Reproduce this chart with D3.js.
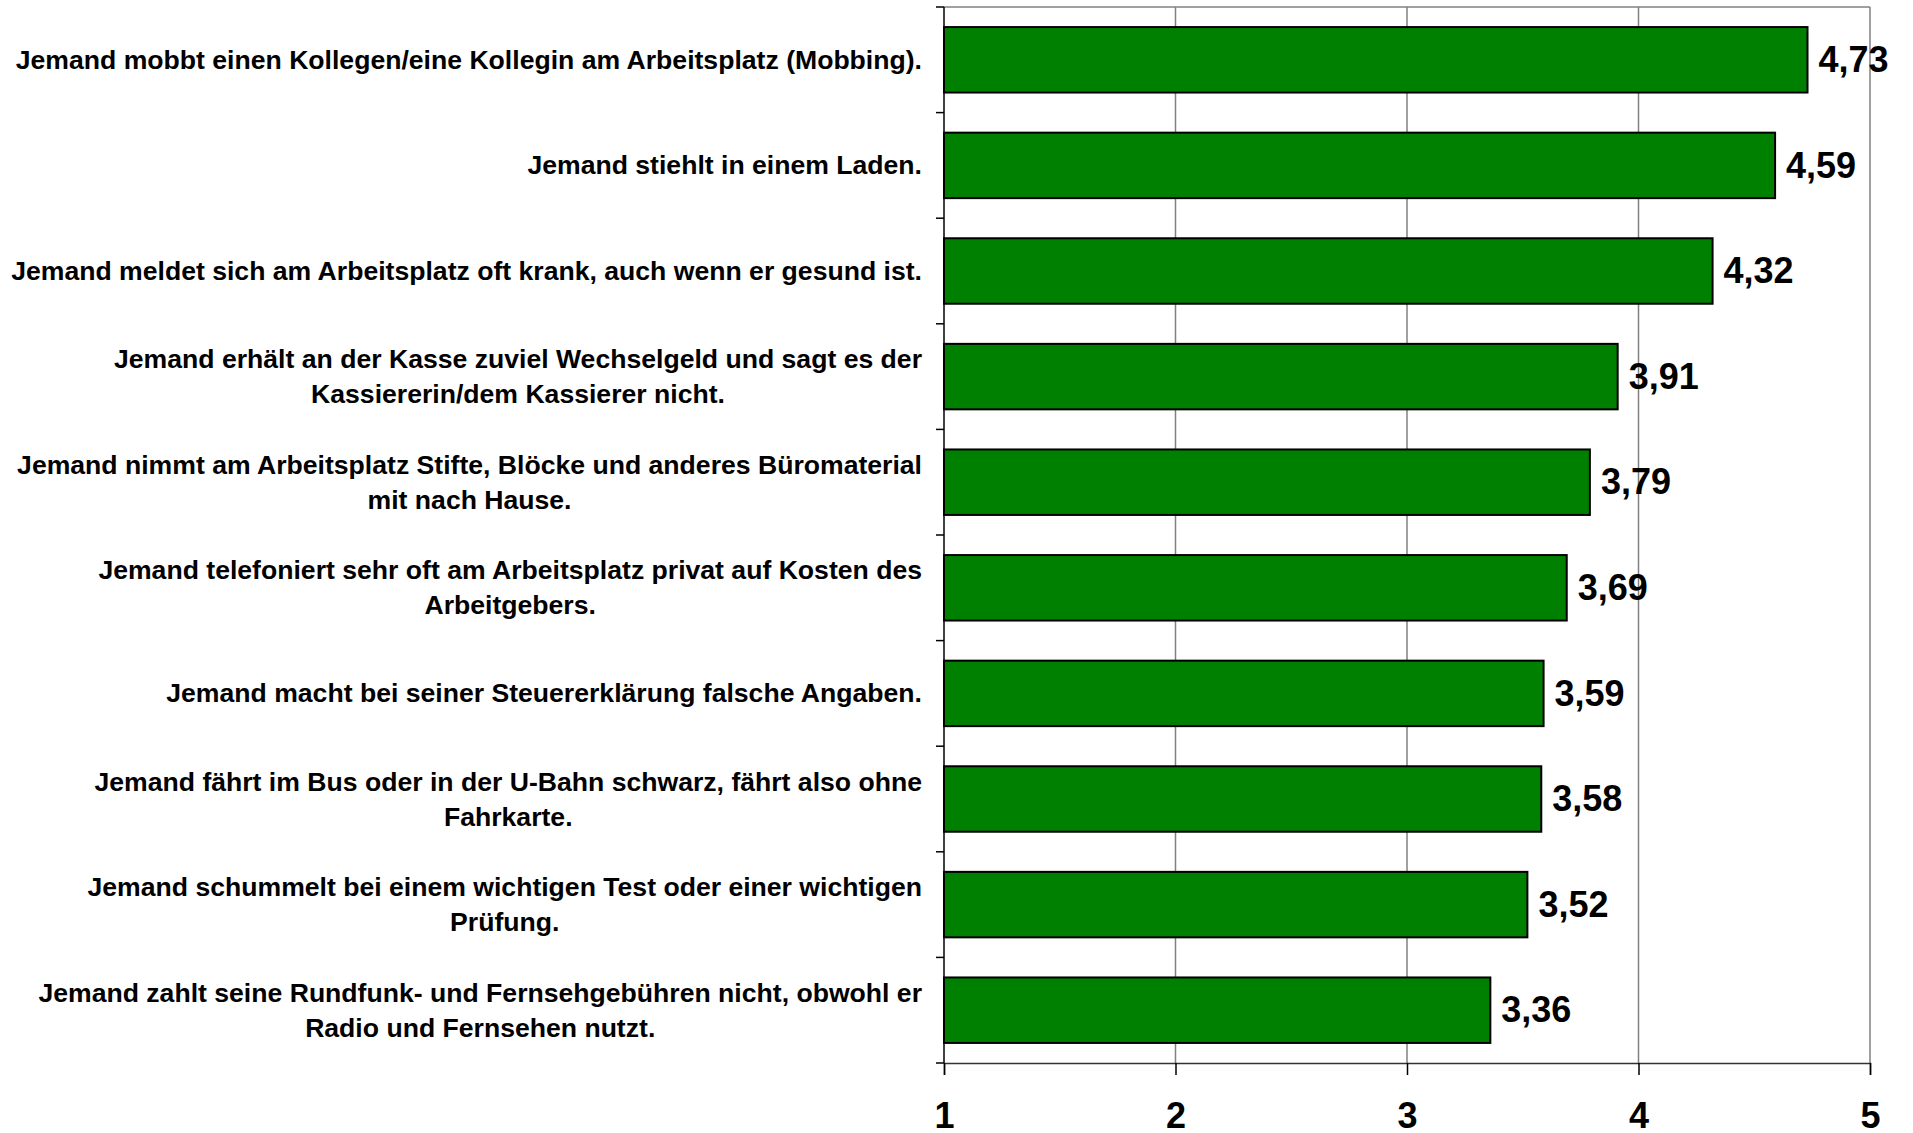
<!DOCTYPE html>
<html>
<head>
<meta charset="utf-8">
<script src="https://cdn.jsdelivr.net/npm/d3@7"></script>
<style>
  body { margin: 0; background: #fff; }
  svg { display: block; font-family: Arial, "Liberation Sans", sans-serif; font-weight: bold; }
</style>
</head>
<body>
<div id="chart"></div>
<script>
const labels = [
  ["Jemand mobbt einen Kollegen/eine Kollegin am Arbeitsplatz (Mobbing)."],
  ["Jemand stiehlt in einem Laden."],
  ["Jemand meldet sich am Arbeitsplatz oft krank, auch wenn er gesund ist."],
  ["Jemand erhält an der Kasse zuviel Wechselgeld und sagt es der", "Kassiererin/dem Kassierer nicht."],
  ["Jemand nimmt am Arbeitsplatz Stifte, Blöcke und anderes Büromaterial", "mit nach Hause."],
  ["Jemand telefoniert sehr oft am Arbeitsplatz privat auf Kosten des", "Arbeitgebers."],
  ["Jemand macht bei seiner Steuererklärung falsche Angaben."],
  ["Jemand fährt im Bus oder in der U-Bahn schwarz, fährt also ohne", "Fahrkarte."],
  ["Jemand schummelt bei einem wichtigen Test oder einer wichtigen", "Prüfung."],
  ["Jemand zahlt seine Rundfunk- und Fernsehgebühren nicht, obwohl er", "Radio und Fernsehen nutzt."]
];
const values = [4.73, 4.59, 4.32, 3.91, 3.79, 3.69, 3.59, 3.58, 3.52, 3.36];
const xTicks = [1, 2, 3, 4, 5];

const width = 1913, height = 1133;
const margin = { top: 7, right: 43, bottom: 70, left: 944 };

const COLORS = {
  BAR: '#008000',
  GRID: '#808080',
  AXIS: '#000'
};

const svg = d3.select('#chart').append('svg')
  .attr('width', width)
  .attr('height', height)
  .attr('viewBox', [0, 0, width, height]);

const x = d3.scaleLinear()
  .domain([1, 5])
  .range([margin.left, width - margin.right]);

const y = d3.scaleBand()
  .domain(d3.range(values.length))
  .range([margin.top, height - margin.bottom])
  .paddingInner(0.38)
  .paddingOuter(0.19);

// boundaries between categories for the small ticks
const step = (height - margin.bottom - margin.top) / values.length;
const yBounds = d3.range(values.length + 1).map(i => margin.top + i * step);

// grid lines + frame
svg.append('g')
  .selectAll('line')
  .data(xTicks.slice(1))
  .join('line')
    .attr('x1', d => x(d)).attr('x2', d => x(d))
    .attr('y1', margin.top).attr('y2', height - margin.bottom)
    .attr('stroke', COLORS.GRID)
    .attr('stroke-width', 1.5);

svg.append('line')
  .attr('x1', margin.left).attr('x2', width - margin.right)
  .attr('y1', margin.top).attr('y2', margin.top)
  .attr('stroke', COLORS.GRID)
  .attr('stroke-width', 1.5);

// bars
svg.append('g')
  .selectAll('rect')
  .data(values)
  .join('rect')
    .attr('x', x(1))
    .attr('y', (d, i) => y(i))
    .attr('width', d => x(d) - x(1))
    .attr('height', y.bandwidth())
    .attr('fill', COLORS.BAR)
    .attr('stroke', '#000')
    .attr('stroke-width', 2);

// value labels
svg.append('g')
  .selectAll('text')
  .data(values)
  .join('text')
    .attr('x', d => x(d) + 11)
    .attr('y', (d, i) => y(i) + y.bandwidth() / 2)
    .attr('dy', '0.34em')
    .attr('font-size', 36)
    .attr('fill', '#000')
    .text(d => d.toFixed(2).replace('.', ','));

// left axis line and ticks
svg.append('line')
  .attr('x1', margin.left).attr('x2', margin.left)
  .attr('y1', margin.top).attr('y2', height - margin.bottom)
  .attr('stroke', COLORS.AXIS).attr('stroke-width', 1.5);

svg.append('g')
  .selectAll('line')
  .data(yBounds)
  .join('line')
    .attr('x1', margin.left - 8).attr('x2', margin.left)
    .attr('y1', d => d).attr('y2', d => d)
    .attr('stroke', COLORS.AXIS).attr('stroke-width', 1.5);

// bottom axis, numbers sit right at the lower edge like in the reference
const xAxis = svg.append('g')
  .attr('transform', `translate(0,${height - margin.bottom})`)
  .call(d3.axisBottom(x).tickValues(xTicks).tickSize(12).tickPadding(27).tickFormat(d3.format('d')));
xAxis.select('.domain').attr('stroke', '#333').attr('stroke-width', 1.5);
xAxis.selectAll('.tick line').attr('stroke', '#000').attr('stroke-width', 1.5);
xAxis.selectAll('.tick text')
  .attr('font-size', 36)
  .attr('font-family', 'Arial, "Liberation Sans", sans-serif')
  .attr('font-weight', 'bold')
  .attr('fill', '#000');

// category labels: block right-aligned, lines centred within block
const labelRight = 922;
const lineHeight = 35;
const catG = svg.append('g');
labels.forEach((lines, i) => {
  const cy = y(i) + y.bandwidth() / 2;
  const t = catG.append('text')
    .attr('font-size', 26.6)
    .attr('fill', '#000')
    .attr('text-anchor', 'middle');
  const spans = lines.map((line, j) => t.append('tspan')
    .attr('y', cy + (j - (lines.length - 1) / 2) * lineHeight)
    .attr('dy', '0.34em')
    .text(line));
  const maxW = d3.max(spans, s => s.node().getComputedTextLength());
  spans.forEach(s => s.attr('x', labelRight - maxW / 2));
});
</script>
</body>
</html>
